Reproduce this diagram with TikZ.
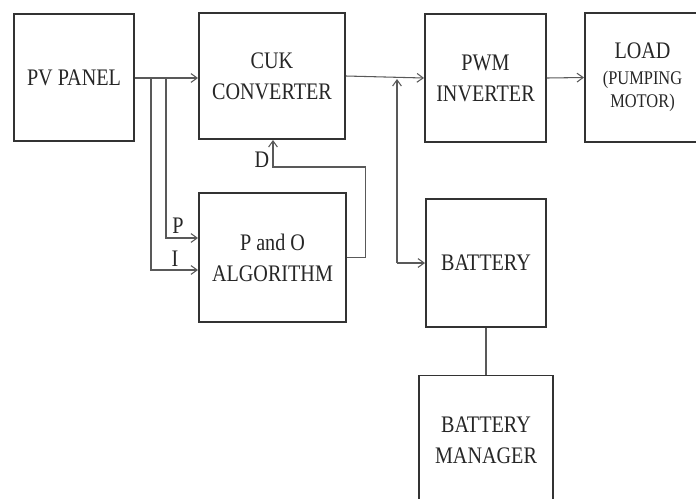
\documentclass[tikz,border=0pt]{standalone}
\usepackage{fontspec}
\setmainfont{Liberation Serif}[FakeStretch=0.85]
\usepackage{tikz}
\usepackage{xcolor}
\usetikzlibrary{arrows.meta,positioning}
\tikzset{
    block/.style={rectangle, draw=black!80, line width=1.1pt, align=center, text=black!85, inner sep=0pt,
        font=\fontsize{13.5}{17.6}\selectfont},
    flow/.style={draw=black!65, line width=0.6pt, -{Straight Barb[length=3.5pt,width=5pt]}},
    link/.style={draw=black!65, line width=0.6pt},
    sig/.style={text=black!85, inner sep=0pt, font=\fontsize{13.5}{17.6}\selectfont}
}

\begin{document}
\begin{tikzpicture}[x=0.02cm, y=-0.02cm]
    \path[use as bounding box, clip] (0,0) rectangle (696,498);
    % blocks
    \node[block, minimum width=120*0.02cm, minimum height=127*0.02cm] (pv)   at (74,77.5)  {PV PANEL};
    \node[block, minimum width=146*0.02cm, minimum height=126*0.02cm] (cuk)  at (272,76)   {CUK\\CONVERTER};
    \node[block, minimum width=121*0.02cm, minimum height=128*0.02cm] (pwm)  at (485.5,78) {PWM\\INVERTER};
    \node[block, minimum width=115*0.02cm, minimum height=129*0.02cm, font=\fontsize{11}{13.2}\selectfont] (load) at (642.5,77.5)
        {{\fontsize{13.5}{13.2}\selectfont LOAD}\\[1.5pt](PUMPING\\MOTOR)};
    \node[block, minimum width=147*0.02cm, minimum height=129*0.02cm] (algo) at (272.5,257.5) {P and O\\ALGORITHM};
    \node[block, minimum width=120*0.02cm, minimum height=128*0.02cm] (batt) at (486,263)  {BATTERY};
    \node[block, minimum width=134*0.02cm, minimum height=129*0.02cm] (mgr)  at (486,440)  {BATTERY\\MANAGER};
    % branch points
    \coordinate (b1) at (151,78);
    \coordinate (b2) at (166,78);
    \coordinate (dc) at (273,167);
    \coordinate (jn) at (397,79);
    \coordinate (bc) at (397,263);
    % connectors
    \draw[flow] (pv.east |- b1) -- (cuk.west |- b1);
    \draw[flow] (b2) |- (algo.west |- 0,238);
    \draw[flow] (b1) |- (algo.west |- 0,270);
    \draw[flow] (algo.east) -- ++(19,0) |- (dc) -- (dc |- cuk.south);
    \draw[flow] (cuk.east) -- (pwm.west);
    \draw[flow] (bc) -- (jn);
    \draw[flow] (bc) -- (batt.west);
    \draw[flow] (pwm.east) -- (load.west);
    \draw[link] (batt.south) -- (mgr.north);
    % labels
    \node[sig] (lp) at (178,226) {P};
    \node[sig] (li) at (175,259) {I};
    \node[sig] (ld) at (262,160) {D};
\end{tikzpicture}
\end{document}
